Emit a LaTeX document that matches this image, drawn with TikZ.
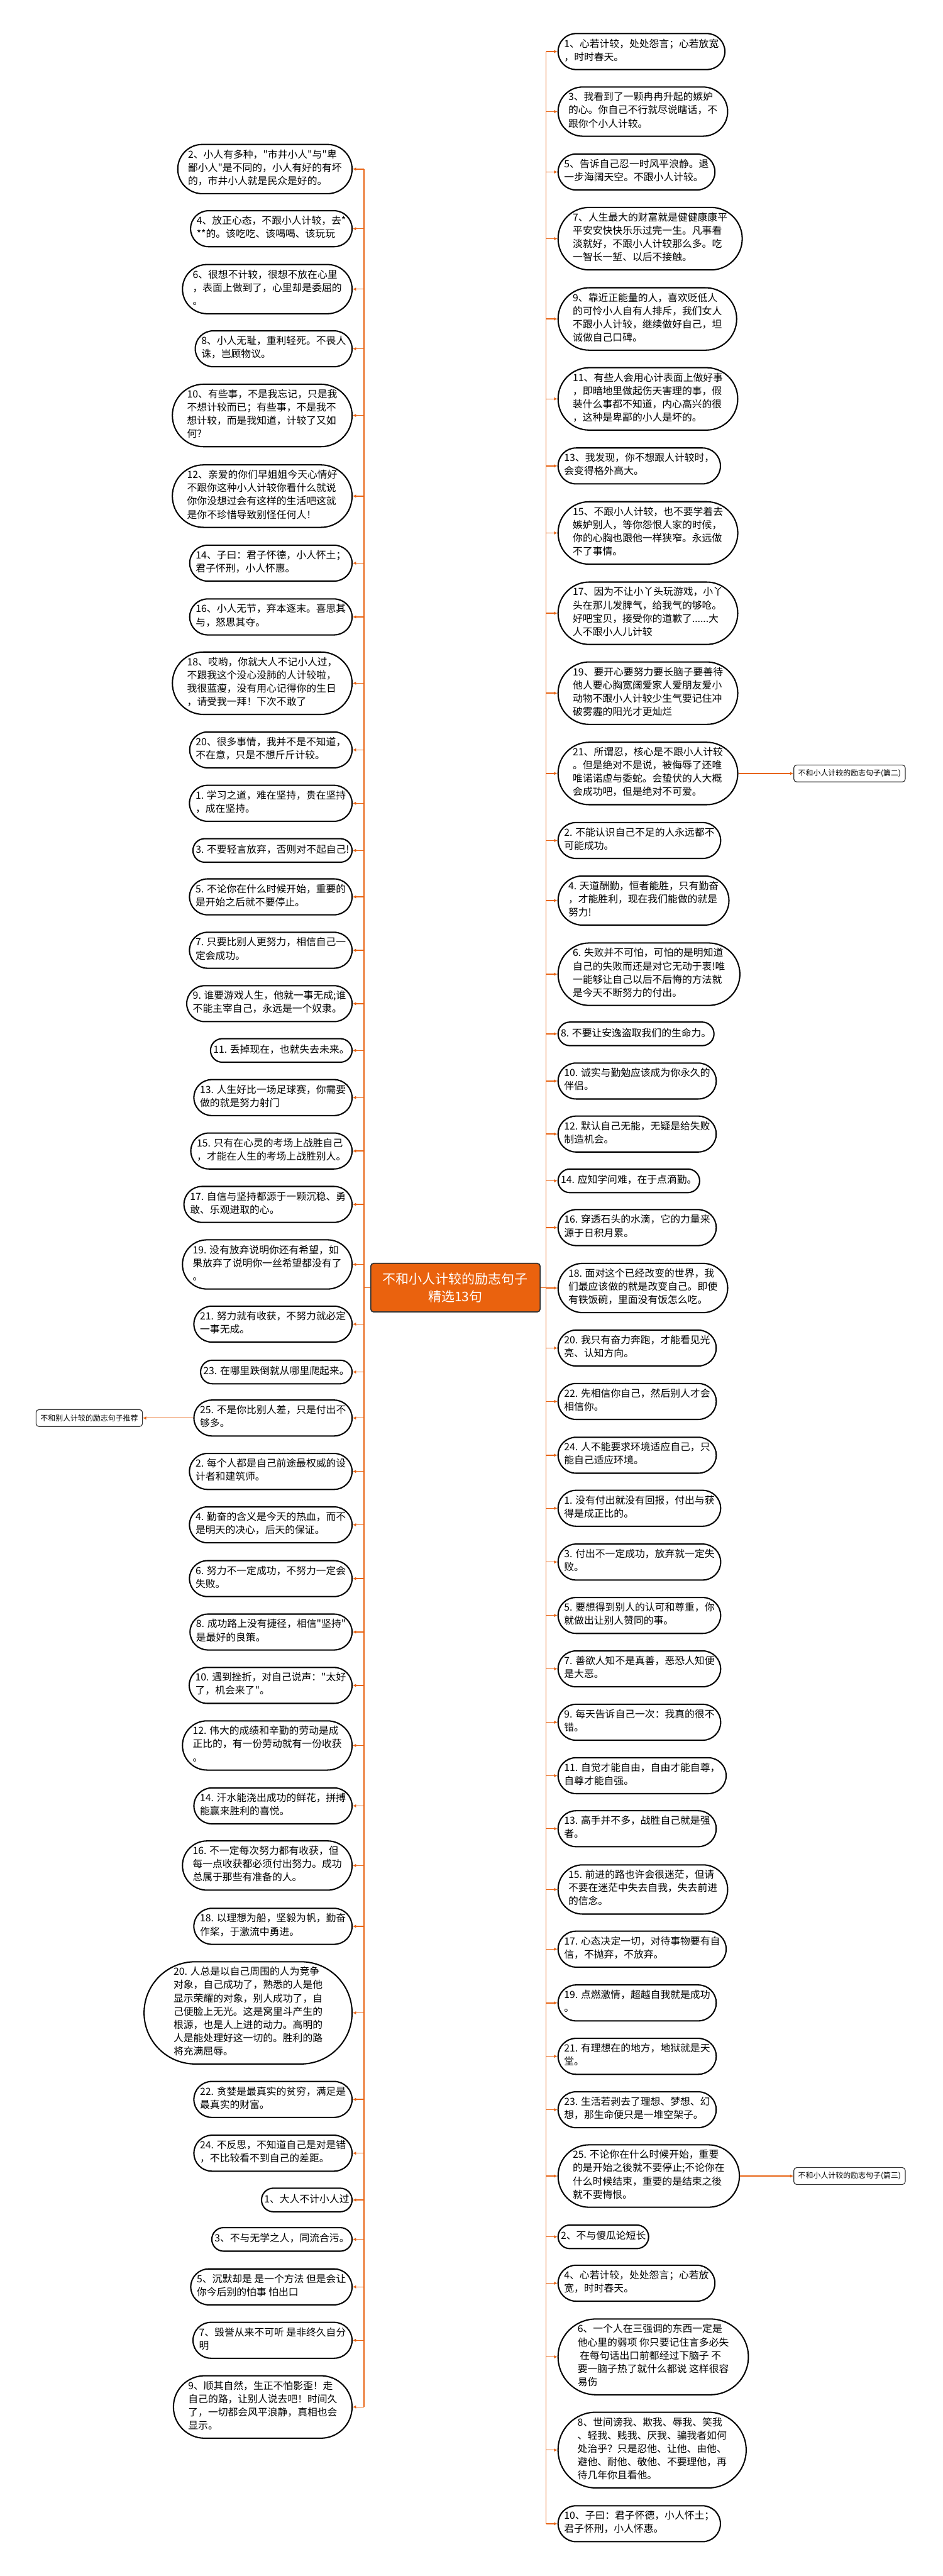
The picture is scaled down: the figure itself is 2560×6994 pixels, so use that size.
\documentclass[tikz,border=0pt]{standalone}
\usepackage{fontspec}
\newfontfamily\cjk{Noto Sans CJK SC}
\usetikzlibrary{arrows.meta, shapes}

\definecolor{linkorange}{RGB}{232,100,20}
\definecolor{rootorange}{RGB}{234,98,14}

\begin{document}
\begin{tikzpicture}[
    x=0.1mm, y=-0.1mm,
    saying/.style={rounded rectangle, draw, line width=0.35mm, fill=white,
                   inner xsep=0.2mm, inner ysep=1.4mm, align=left,
                   font=\cjk\fontsize{7.68pt}{10.24pt}\selectfont,
                   execute at begin node=\strut, execute at end node=\strut},
    lsaying/.style={saying, anchor=east},
    rsaying/.style={saying, anchor=west},
    root/.style={rectangle, draw=black!80, line width=0.3mm, rounded corners=0.8mm,
                 fill=rootorange, text=white, align=center, minimum width=46mm,
                 minimum height=13.2mm, font=\cjk\fontsize{10.2pt}{13.6pt}\selectfont},
    tag/.style={rectangle, draw=black!80, line width=0.2mm, rounded corners=0.8mm,
                fill=white, inner xsep=1.2mm, minimum height=4.6mm,
                font=\cjk\fontsize{5.8pt}{7pt}\selectfont},
    spine/.style={draw=linkorange, line width=0.3mm},
    arrow/.style={-{Latex[length=0.9mm, width=0.9mm]}, draw=linkorange, line width=0.25mm}
]

\path[fill=white, use as bounding box] (0,0) rectangle (2560,6994);

\coordinate (lspine) at (989,0);
\coordinate (rspine) at (1483,0);

\node[root] (root) at (1237,3496) {不和小人计较的励志句子\\精选13句};

% left branch
\node[lsaying] (l1) at (958,459) {2、小人有多种，"市井小人"与"卑\\鄙小人"是不同的，小人有好的有坏\\的，市井小人就是民众是好的。};
\node[lsaying] (l2) at (958,621) {4、放正心态，不跟小人计较，去*\\**的。该吃吃、该喝喝、该玩玩};
\node[lsaying] (l3) at (958,785) {6、很想不计较，很想不放在心里\\，表面上做到了，心里却是委屈的\\。};
\node[lsaying] (l4) at (958,947) {8、小人无耻，重利轻死。不畏人\\诛，岂顾物议。};
\node[lsaying] (l5) at (958,1128) {10、有些事，不是我忘记，只是我\\不想计较而已；有些事，不是我不\\想计较，而是我知道，计较了又如\\何?};
\node[lsaying] (l6) at (958,1347) {12、亲爱的你们早姐姐今天心情好\\不跟你这种小人计较你看什么就说\\你你没想过会有这样的生活吧这就\\是你不珍惜导致别怪任何人！};
\node[lsaying] (l7) at (958,1529) {14、子曰：君子怀德，小人怀土；\\君子怀刑，小人怀惠。};
\node[lsaying] (l8) at (958,1675) {16、小人无节，弃本逐末。喜思其\\与，怒思其夺。};
\node[lsaying] (l9) at (958,1855) {18、哎哟，你就大人不记小人过，\\不跟我这个没心没肺的人计较啦，\\我很蓝瘦，没有用心记得你的生日\\，请受我一拜！下次不敢了};
\node[lsaying] (l10) at (958,2036) {20、很多事情，我并不是不知道，\\不在意，只是不想斤斤计较。};
\node[lsaying] (l11) at (958,2181) {1. 学习之道，难在坚持，贵在坚持\\，成在坚持。};
\node[lsaying] (l12) at (958,2309) {3. 不要轻言放弃，否则对不起自己!};
\node[lsaying] (l13) at (958,2435) {5. 不论你在什么时候开始，重要的\\是开始之后就不要停止。};
\node[lsaying] (l14) at (958,2580) {7. 只要比别人更努力，相信自己一\\定会成功。};
\node[lsaying] (l15) at (958,2725) {9. 谁要游戏人生，他就一事无成;谁\\不能主宰自己，永远是一个奴隶。};
\node[lsaying] (l16) at (958,2852) {11. 丢掉现在，也就失去未来。};
\node[lsaying] (l17) at (958,2980) {13. 人生好比一场足球赛，你需要\\做的就是努力射门};
\node[lsaying] (l18) at (958,3125) {15. 只有在心灵的考场上战胜自己\\，才能在人生的考场上战胜别人。};
\node[lsaying] (l19) at (958,3270) {17. 自信与坚持都源于一颗沉稳、勇\\敢、乐观进取的心。};
\node[lsaying] (l20) at (958,3433) {19. 没有放弃说明你还有希望，如\\果放弃了说明你一丝希望都没有了\\。};
\node[lsaying] (l21) at (958,3595) {21. 努力就有收获，不努力就必定\\一事无成。};
\node[lsaying] (l22) at (958,3725) {23. 在哪里跌倒就从哪里爬起来。};
\node[lsaying] (l23) at (958,3850) {25. 不是你比别人差，只是付出不\\够多。};
\node[lsaying] (l24) at (958,3995) {2. 每个人都是自己前途最权威的设\\计者和建筑师。};
\node[lsaying] (l25) at (958,4140) {4. 勤奋的含义是今天的热血，而不\\是明天的决心，后天的保证。};
\node[lsaying] (l26) at (958,4286) {6. 努力不一定成功，不努力一定会\\失败。};
\node[lsaying] (l27) at (958,4431) {8. 成功路上没有捷径，相信"坚持"\\是最好的良策。};
\node[lsaying] (l28) at (958,4576) {10. 遇到挫折，对自己说声："太好\\了，机会来了"。};
\node[lsaying] (l29) at (958,4739) {12. 伟大的成绩和辛勤的劳动是成\\正比的，有一份劳动就有一份收获\\。};
\node[lsaying] (l30) at (958,4903) {14. 汗水能浇出成功的鲜花，拼搏\\能赢来胜利的喜悦。};
\node[lsaying] (l31) at (958,5065) {16. 不一定每次努力都有收获，但\\每一点收获都必须付出努力。成功\\总属于那些有准备的人。};
\node[lsaying] (l32) at (958,5230) {18. 以理想为船，坚毅为帆，勤奋\\作桨，于激流中勇进。};
\node[lsaying] (l33) at (958,5465) {20. 人总是以自己周围的人为竞争\\对象，自己成功了，熟悉的人是他\\显示荣耀的对象，别人成功了，自\\己便脸上无光。这是窝里斗产生的\\根源，也是人上进的动力。高明的\\人是能处理好这一切的。胜利的路\\将充满屈辱。};
\node[lsaying] (l34) at (958,5700) {22. 贪婪是最真实的贫穷，满足是\\最真实的财富。};
\node[lsaying] (l35) at (958,5846) {24. 不反思，不知道自己是对是错\\，不比较看不到自己的差距。};
\node[lsaying] (l36) at (958,5973) {1、大人不计小人过};
\node[lsaying] (l37) at (958,6080) {3、不与无学之人，同流合污。};
\node[lsaying] (l38) at (958,6209) {5、沉默却是 是一个方法 但是会让\\你今后别的怕事 怕出口};
\node[lsaying] (l39) at (958,6354) {7、毁誉从来不可听 是非终久自分\\明};
\node[lsaying] (l40) at (958,6535) {9、顺其自然，生正不怕影歪！走\\自己的路，让别人说去吧！时间久\\了，一切都会风平浪静，真相也会\\显示。};

% right branch
\node[rsaying] (r1) at (1514,140) {1、心若计较，处处怨言；心若放宽\\，时时春天。};
\node[rsaying] (r2) at (1514,303) {3、我看到了一颗冉冉升起的嫉妒\\的心。你自己不行就尽说瞎话，不\\跟你个小人计较。};
\node[rsaying] (r3) at (1514,467) {5、告诉自己忍一时风平浪静。退\\一步海阔天空。不跟小人计较。};
\node[rsaying] (r4) at (1514,648) {7、人生最大的财富就是健健康康平\\平安安快快乐乐过完一生。凡事看\\淡就好，不跟小人计较那么多。吃\\一智长一堑、以后不接触。};
\node[rsaying] (r5) at (1514,866) {9、靠近正能量的人，喜欢贬低人\\的可怜小人自有人排斥，我们女人\\不跟小人计较，继续做好自己，坦\\诚做自己口碑。};
\node[rsaying] (r6) at (1514,1083) {11、有些人会用心计表面上做好事\\，即暗地里做起伤天害理的事，假\\装什么事都不知道，内心高兴的很\\，这种是卑鄙的小人是坏的。};
\node[rsaying] (r7) at (1514,1265) {13、我发现，你不想跟人计较时，\\会变得格外高大。};
\node[rsaying] (r8) at (1514,1447) {15、不跟小人计较，也不要学着去\\嫉妒别人，等你怨恨人家的时候，\\你的心胸也跟他一样狭窄。永远做\\不了事情。};
\node[rsaying] (r9) at (1514,1665) {17、因为不让小丫头玩游戏，小丫\\头在那儿发脾气，给我气的够呛。\\好吧宝贝，接受你的道歉了......大\\人不跟小人儿计较};
\node[rsaying] (r10) at (1514,1882) {19、要开心要努力要长脑子要善待\\他人要心胸宽阔爱家人爱朋友爱小\\动物不跟小人计较少生气要记住冲\\破雾霾的阳光才更灿烂};
\node[rsaying] (r11) at (1514,2100) {21、所谓忍，核心是不跟小人计较\\。但是绝对不是说，被侮辱了还唯\\唯诺诺虚与委蛇。会蛰伏的人大概\\会成功吧，但是绝对不可爱。};
\node[rsaying] (r12) at (1514,2282) {2. 不能认识自己不足的人永远都不\\可能成功。};
\node[rsaying] (r13) at (1514,2445) {4. 天道酬勤，恒者能胜，只有勤奋\\，才能胜利，现在我们能做的就是\\努力!};
\node[rsaying] (r14) at (1514,2645) {6. 失败并不可怕，可怕的是明知道\\自己的失败而还是对它无动于衷!唯\\一能够让自己以后不后悔的方法就\\是今天不断努力的付出。};
\node[rsaying] (r15) at (1514,2807) {8. 不要让安逸盗取我们的生命力。};
\node[rsaying] (r16) at (1514,2935) {10. 诚实与勤勉应该成为你永久的\\伴侣。};
\node[rsaying] (r17) at (1514,3079) {12. 默认自己无能，无疑是给失败\\制造机会。};
\node[rsaying] (r18) at (1514,3206) {14. 应知学问难，在于点滴勤。};
\node[rsaying] (r19) at (1514,3333) {16. 穿透石头的水滴，它的力量来\\源于日积月累。};
\node[rsaying] (r20) at (1514,3497) {18. 面对这个已经改变的世界，我\\们最应该做的就是改变自己。即使\\有铁饭碗，里面没有饭怎么吃。};
\node[rsaying] (r21) at (1514,3660) {20. 我只有奋力奔跑，才能看见光\\亮、认知方向。};
\node[rsaying] (r22) at (1514,3805) {22. 先相信你自己，然后别人才会\\相信你。};
\node[rsaying] (r23) at (1514,3951) {24. 人不能要求环境适应自己，只\\能自己适应环境。};
\node[rsaying] (r24) at (1514,4095) {1. 没有付出就没有回报，付出与获\\得是成正比的。};
\node[rsaying] (r25) at (1514,4241) {3. 付出不一定成功，放弃就一定失\\败。};
\node[rsaying] (r26) at (1514,4386) {5. 要想得到别人的认可和尊重，你\\就做出让别人赞同的事。};
\node[rsaying] (r27) at (1514,4531) {7. 善欲人知不是真善，恶恐人知便\\是大恶。};
\node[rsaying] (r28) at (1514,4676) {9. 每天告诉自己一次：我真的很不\\错。};
\node[rsaying] (r29) at (1514,4821) {11. 自觉才能自由，自由才能自尊，\\自尊才能自强。};
\node[rsaying] (r30) at (1514,4965) {13. 高手并不多，战胜自己就是强\\者。};
\node[rsaying] (r31) at (1514,5130) {15. 前进的路也许会很迷茫，但请\\不要在迷茫中失去自我，失去前进\\的信念。};
\node[rsaying] (r32) at (1514,5292) {17. 心态决定一切，对待事物要有自\\信，不抛弃，不放弃。};
\node[rsaying] (r33) at (1514,5438) {19. 点燃激情，超越自我就是成功\\。};
\node[rsaying] (r34) at (1514,5583) {21. 有理想在的地方，地狱就是天\\堂。};
\node[rsaying] (r35) at (1514,5728) {23. 生活若剥去了理想、梦想、幻\\想，那生命便只是一堆空架子。};
\node[rsaying] (r36) at (1514,5908) {25. 不论你在什么时候开始，重要\\的是开始之後就不要停止;不论你在\\什么时候结束，重要的是结束之後\\就不要悔恨。};
\node[rsaying] (r37) at (1514,6073) {2、不与傻瓜论短长};
\node[rsaying] (r38) at (1514,6199) {4、心若计较，处处怨言；心若放\\宽，时时春天。};
\node[rsaying] (r39) at (1514,6399) {6、一个人在三强调的东西一定是\\他心里的弱项 你只要记住言多必失\\\ 在每句话出口前都经过下脑子 不\\要一脑子热了就什么都说 这样很容\\易伤};
\node[rsaying] (r40) at (1514,6652) {8、世间谤我、欺我、辱我、笑我\\、轻我、贱我、厌我、骗我者如何\\处治乎？只是忍他、让他、由他、\\避他、耐他、敬他、不要理他，再\\待几年你且看他。};
\node[rsaying] (r41) at (1514,6852) {10、子曰：君子怀德，小人怀土；\\君子怀刑，小人怀惠。};

% side tags
\node[tag, anchor=east] (tagl) at (388,3850) {不和别人计较的励志句子推荐};
\node[tag, anchor=west] (tagr2) at (2155,2100) {不和小人计较的励志句子(篇二)};
\node[tag, anchor=west] (tagr3) at (2155,5908) {不和小人计较的励志句子(篇三)};

% connectors
\draw[spine] (root.west) -- (root.west -| lspine);
\draw[spine] (root.east) -- (root.east -| rspine);
\draw[spine] (lspine |- l1.east) -- (lspine |- l40.east);
\draw[spine] (rspine |- r1.west) -- (rspine |- r41.west);
\foreach \n in {1,...,40} \draw[arrow] (lspine |- l\n.east) -- (l\n.east);
\foreach \n in {1,...,41} \draw[arrow] (rspine |- r\n.west) -- (r\n.west);
\draw[arrow] (l23.west) -- (tagl.east);
\draw[arrow] (r11.east) -- (tagr2.west);
\draw[arrow] (r36.east) -- (tagr3.west);

\end{tikzpicture}
\end{document}
